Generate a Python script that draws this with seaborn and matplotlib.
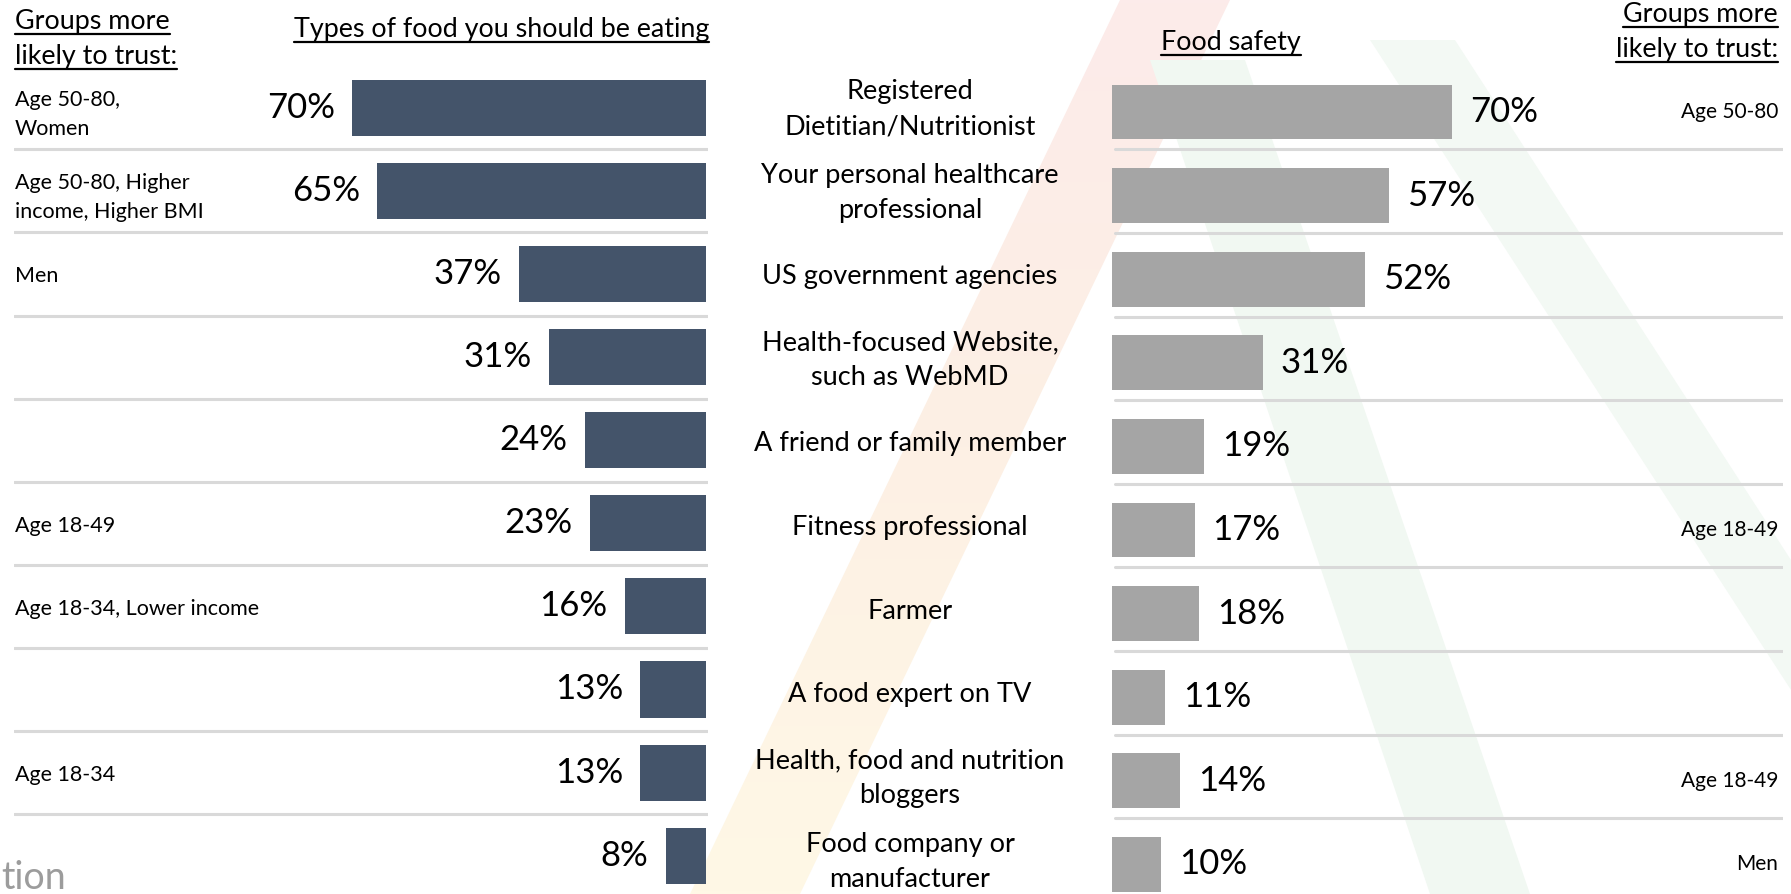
import numpy as np
import pandas as pd
import matplotlib
matplotlib.use("Agg")
import matplotlib.pyplot as plt
import matplotlib.transforms as mtransforms
from matplotlib.patches import Polygon
from matplotlib.lines import Line2D
from matplotlib.colors import LinearSegmentedColormap
import seaborn as sns

# ---- data -------------------------------------------------------------
sources = [
    "Registered\nDietitian/Nutritionist",
    "Your personal healthcare\nprofessional",
    "US government agencies",
    "Health-focused Website,\nsuch as WebMD",
    "A friend or family member",
    "Fitness professional",
    "Farmer",
    "A food expert on TV",
    "Health, food and nutrition\nbloggers",
    "Food company or\nmanufacturer",
]
food_types_pct = [70, 65, 37, 31, 24, 23, 16, 13, 13, 8]
food_safety_pct = [70, 57, 52, 31, 19, 17, 18, 11, 14, 10]
groups_food_types = [
    "Age 50-80,\nWomen",
    "Age 50-80, Higher\nincome, Higher BMI",
    "Men", "", "", "Age 18-49",
    "Age 18-34, Lower income", "", "Age 18-34", "",
]
groups_food_safety = ["Age 50-80", "", "", "", "", "Age 18-49", "", "", "Age 18-49", "Men"]

left_title = "Types of food you should be eating"
right_title = "Food safety"
groups_title = "Groups more\nlikely to trust:"

df = pd.DataFrame({"source": sources,
                   "food_types": food_types_pct,
                   "food_safety": food_safety_pct})

# ---- style ------------------------------------------------------------
sns.set_style("white")
plt.rcParams["font.family"] = ["Lato", "DejaVu Sans"]

W, H = 1791, 894
DARK = "#44546A"
GREY = "#A5A5A5"
RULE = "#D9D9D9"
FS_HEAD, FS_MID, FS_PCT, FS_GRP_L, FS_GRP_R = 19.4, 19.5, 25, 15.5, 15

fig = plt.figure(figsize=(W / 100, H / 100), dpi=100)
fig.patch.set_facecolor("white")

# ---- faint logo watermark behind everything ----------------------------
bg = fig.add_axes([0, 0, 1, 1], zorder=-10)
bg.set_xlim(0, W)
bg.set_ylim(H, 0)
bg.axis("off")
warm = LinearSegmentedColormap.from_list("warm", ["#FCEBEA", "#FDF0E4", "#FFF8E6"])
grad = np.linspace(0, 1, 256).reshape(-1, 1)
leg_left = Polygon([(1120, 0), (1230, 0), (800, H), (690, H)], closed=True,
                   facecolor="none", edgecolor="none")
bg.add_patch(leg_left)
im = bg.imshow(grad, cmap=warm, extent=[0, W, H, 0], aspect="auto", zorder=0)
im.set_clip_path(leg_left)
bg.add_patch(Polygon([(1150, 60), (1245, 60), (1530, H), (1430, H)], closed=True,
                     facecolor="#F1F8F2", edgecolor="none", zorder=1))
bg.add_patch(Polygon([(1370, 40), (1455, 40), (W, 560), (W, 690)], closed=True,
                     facecolor="#F3F9F4", edgecolor="none", zorder=1))

# ---- left panel: types of food (bars grow leftwards) ---------------------
L_X0, L_X1, L_ZERO, L_SCALE = 14, 708, 706, 5.057     # px, px/percent
L_ROW0, L_STEP = 107.8, 83.1
ax_l = fig.add_axes([L_X0 / W, 0, (L_X1 - L_X0) / W, 1])
ax_l.patch.set_alpha(0)
sns.barplot(data=df, x="food_types", y="source", order=sources, orient="h",
            color=DARK, saturation=1, width=0.674, linewidth=0, ax=ax_l, zorder=2)
ax_l.set_xlim((L_ZERO - L_X0) / L_SCALE, -(L_X1 - L_ZERO) / L_SCALE)
ax_l.set_ylim((H - L_ROW0) / L_STEP, -L_ROW0 / L_STEP)
for k in range(len(sources) - 1):
    ax_l.axhline(k + 0.5, color=RULE, lw=2.2, zorder=1)
for k, v in enumerate(food_types_pct):
    ax_l.annotate(f"{v}%", xy=(v, k), xytext=(-12.5, 0), textcoords="offset points",
                  ha="right", va="center", fontsize=FS_PCT, color="black")
tr_l = mtransforms.blended_transform_factory(fig.transFigure, ax_l.transData)
for k, g in enumerate(groups_food_types):
    if g:
        dy = 0.08 if "\n" in g else 0.03
        ax_l.text(15 / W, k + dy, g, transform=tr_l, ha="left", va="center",
                  fontsize=FS_GRP_L, color="black", linespacing=1.55)
ax_l.axis("off")

# ---- right panel: food safety -----------------------------------------
R_X0, R_X1, R_SCALE = 1112, 1783, 4.857
R_ROW0, R_STEP = 112.0, 83.6
ax_r = fig.add_axes([R_X0 / W, 0, (R_X1 - R_X0) / W, 1])
ax_r.patch.set_alpha(0)
sns.barplot(data=df, x="food_safety", y="source", order=sources, orient="h",
            color=GREY, saturation=1, width=0.657, linewidth=0, ax=ax_r, zorder=2)
ax_r.set_xlim(0, (R_X1 - R_X0) / R_SCALE)
ax_r.set_ylim((H - R_ROW0) / R_STEP, -R_ROW0 / R_STEP)
for k in range(len(sources) - 1):
    ax_r.axhline(k + 0.447, xmin=3 / (R_X1 - R_X0), color=RULE, lw=2.2, zorder=1)
for k, v in enumerate(food_safety_pct):
    ax_r.annotate(f"{v}%", xy=(v, k), xytext=(13, 0), textcoords="offset points",
                  ha="left", va="center", fontsize=FS_PCT, color="black")
tr_r = mtransforms.blended_transform_factory(fig.transFigure, ax_r.transData)
for k, s in enumerate(sources):
    ax_r.text(910 / W, k - 0.03, s, transform=tr_r, ha="center", va="center",
              multialignment="center", fontsize=FS_MID, color="black", linespacing=1.5)
for k, g in enumerate(groups_food_safety):
    if g:
        ax_r.text(1778 / W, k, g, transform=tr_r, ha="right", va="center",
                  fontsize=FS_GRP_R, color="black")
ax_r.axis("off")

# ---- underlined headings -------------------------------------------------
headings = []  # (text artist, baseline px from top)


def heading(x, y, s, ha):
    t = fig.text(x / W, 1 - y / H, s, ha=ha, va="baseline",
                 fontsize=FS_HEAD, color="black")
    headings.append((t, y))


g1, g2 = groups_title.split("\n")
heading(15, 29, g1, "left")
heading(15, 64, g2, "left")
heading(709, 37, left_title, "right")
heading(1231, 50, right_title, "center")
heading(1778, 22, g1, "right")
heading(1778, 57, g2, "right")

fig.canvas.draw()
renderer = fig.canvas.get_renderer()
for t, y in headings:
    bb = t.get_window_extent(renderer)
    yy = 1 - (y + 5) / H
    fig.add_artist(Line2D([bb.x0 / W, bb.x1 / W], [yy, yy], transform=fig.transFigure,
                          color="black", lw=1.6))

# ---- footer fragment -----------------------------------------------------
fig.text(1 / W, 1 - 889 / H, "tion", ha="left", va="baseline", fontsize=27,
         color="#9C9C9C")

fig.savefig("out.png", dpi=100, facecolor="white")
